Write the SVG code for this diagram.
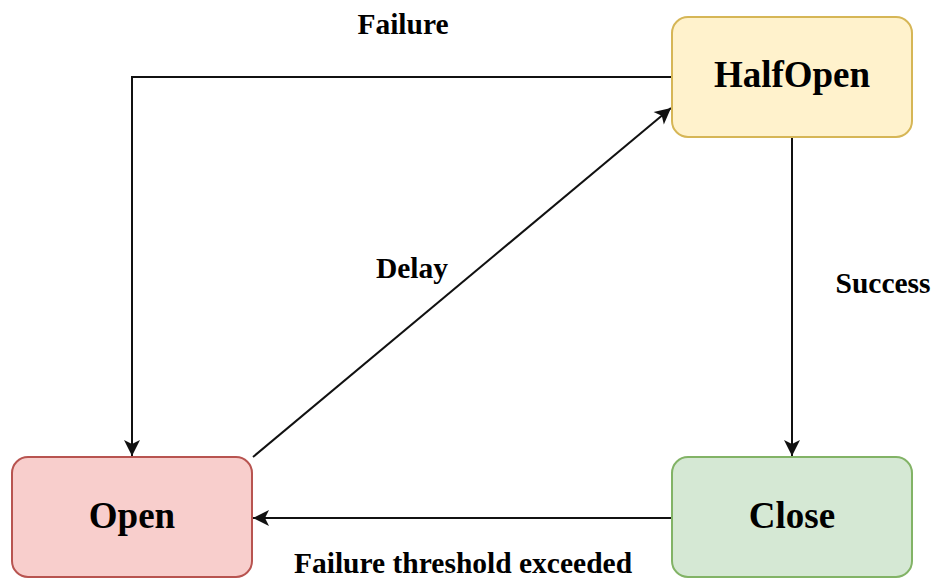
<svg xmlns="http://www.w3.org/2000/svg" width="934" height="579" viewBox="0 0 934 579">
  <style>
    .node { stroke-width: 2; }
    .node-label { font-family: "Liberation Serif", "Times New Roman", serif; font-weight: bold; font-size: 37px; fill: #000; text-anchor: middle; }
    .edge { fill: none; stroke: #111; stroke-width: 2; }
    .edge-label { font-family: "Liberation Serif", "Times New Roman", serif; font-weight: bold; font-size: 29.5px; fill: #000; text-anchor: middle; }
  </style>
  <defs>
    <marker id="arrow" viewBox="-17 -9 18 18" refX="0" refY="0" markerWidth="18" markerHeight="18" markerUnits="userSpaceOnUse" orient="auto">
      <path d="M 0 0 L -16 -8 L -12 0 L -16 8 Z" fill="#111"/>
    </marker>
  </defs>
  <rect width="934" height="579" fill="#ffffff"/>

  <g id="connectors">
    <!-- HalfOpen -> Open (Failure) -->
    <polyline class="edge" points="672,77 132,77 132,456" marker-end="url(#arrow)"/>
    <!-- Open -> HalfOpen (Delay) -->
    <line class="edge" x1="253" y1="457" x2="671" y2="108" marker-end="url(#arrow)"/>
    <!-- HalfOpen -> Close (Success) -->
    <line class="edge" x1="792" y1="137" x2="792" y2="456" marker-end="url(#arrow)"/>
    <!-- Close -> Open (Failure threshold exceeded) -->
    <line class="edge" x1="672" y1="518" x2="253" y2="518" marker-end="url(#arrow)"/>
  </g>

  <g id="edge-labels">
    <text class="edge-label" x="403" y="34">Failure</text>
    <text class="edge-label" x="412" y="278">Delay</text>
    <text class="edge-label" x="883" y="293">Success</text>
    <text class="edge-label" x="463" y="573">Failure threshold exceeded</text>
  </g>

  <g id="halfopen">
    <rect class="node" x="672" y="17" width="240" height="120" rx="16" fill="#fff2cc" stroke="#d6b656"/>
    <text class="node-label" x="792" y="87">HalfOpen</text>
  </g>

  <g id="open">
    <rect class="node" x="12" y="457" width="240" height="120" rx="16" fill="#f8cecc" stroke="#b85450"/>
    <text class="node-label" x="132" y="528">Open</text>
  </g>

  <g id="close">
    <rect class="node" x="672" y="457" width="240" height="120" rx="16" fill="#d5e8d4" stroke="#82b366"/>
    <text class="node-label" x="792" y="528">Close</text>
  </g>
</svg>
